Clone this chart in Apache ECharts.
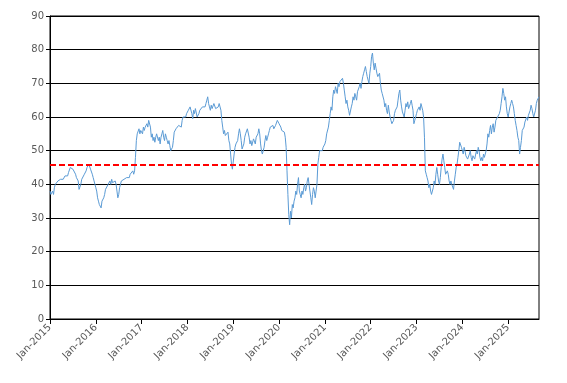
<!DOCTYPE html>
<html>
<head>
<meta charset="utf-8">
<script src="https://cdn.jsdelivr.net/npm/echarts@6/dist/echarts.min.js"></script>
<style>html,body{margin:0;padding:0;background:#fff}#c{width:567px;height:383px}</style>
</head>
<body>
<div id="c"></div>
<script>
// Weekly values per year (52 weeks per year, 2025 partial)
var v2015 = [38,37,36.5,38,37, 39,40,40.5,40, 41,40.5,41,41.5, 41,42,41.5,42,42.5, 42,43,42.5,43.5, 44,45,44.5,45.5, 44.5,44,44.5,43,42, 42.5,41,38.5,39, 40,41.5,41,42, 43,43.5,44,45,45.5, 46,45.5,44.5,45, 43,42,41,40];
var v2016 = [39,38,36,35,34, 33.5,33,35,34.5, 36,37,38.5,38, 39,40,39.5,41,40, 41.5,40.5,41,40, 41,40,38,36, 37,39,40,41,40.5, 41,41.5,42,41, 42,41.5,42.5,42, 43,42.5,43.5,44,43, 44,48,53,55, 55.5,56.5,55,56];
var v2017 = [56,55,57,56,57, 57.5,58,57,59, 59,57,54,55, 53,54,52.5,54,55, 55.5,53,54,52, 54,55,56,54, 53,55,54,53,52, 53,51.5,50,50.5, 51,53,55.5,56, 56.5,57,56,57.5,58, 58,57,59,60, 59.5,60.5,60,61];
var v2018 = [61,62,61.5,63,63.5, 61,59.5,62,61, 62.5,63,60,60.5, 61,62,61.5,62.5,63, 62.5,63.5,63,64, 65,66,64,63, 62,63.5,62.5,63,64, 63.5,62.5,63,62, 63,64,63,62, 59,57,55,56,54.5, 55,54,55.5,53, 52,49,46,44.5];
var v2019 = [45,49,51,52,51.5, 53,55,56.5,55, 53,50.5,50,52, 54,55,55.5,56.5,56, 54,52,53,51.5, 52,53.5,53,52, 54,53.5,55,56.5,55, 52,50,49,48.5, 51,53,54.5,53, 54,55,56,57,56.5, 57,57.5,56.5,57, 57.5,58,59,58.5];
var v2020 = [58,57.5,57,56,56.5, 56,55.5,54,51, 44,37,31,28, 32,30,34,33,35, 36,38,37,40, 42,38,37,36, 38,37,39,40,38, 39,41,42,40, 38,36,34,37, 39,38,36,38,40, 46,48,50,49.5, 50.5,50,51,51.5];
var v2021 = [52,53,55,54.5,57, 59,61,63,62, 66,68,67,69, 68.5,67,70,69,70.5, 71,70,71.5,70, 68,66,64,65, 63,62,60.5,61,63, 64,66,65,67, 66,65,67.5,68, 69,70,68.5,70.5,72, 73,74,75,73.5, 72,71,70,73];
var v2022 = [75,78,79,76,74, 76,74.5,73,72, 71.5,73,70,68, 67,66.5,65,63,64, 62,61,63.5,61.5, 60,59,58,57.5, 59,61,62,61.5,63, 65,67,68,65, 63,61.5,62,60, 62,64,63,64.5,62.5, 63,64,65,63.5, 62,58,59,60];
var v2023 = [61,62,61.5,63,62, 64,63,62,60, 54,44,43,42, 41,39,40,38,37, 36.5,39,41,40, 43,45,43,41, 40,42,45,47.5,49, 47,45,43,42.5, 44,43,41,40, 41,40,39.5,38.5,41, 43,45,46,48, 50,52.5,53,51];
var v2024 = [50,49,51,50,48.5, 49,47.5,48,49, 50,48,47,48.5, 49,47.5,48,50,49, 51,50,48,47, 48,47,49,48, 48.5,50,52,55,54, 56,57.5,55,57, 58,55.5,57,59, 58.5,60,59.5,61,62, 64,66,68.5,67, 65,66,63,61];
var v2025 = [60,61.5,63,64,65, 64,63,61,59, 57.5,56,54,53, 49,51,53,56,56.5, 57,58.5,58,60, 59,60.5,61,62, 63.5,62.5,61,60,59.5, 62,64,65,64.5, 66];
var years = [2015,2016,2017,2018,2019,2020,2021,2022,2023,2024,2025];
var yearValues = [v2015,v2016,v2017,v2018,v2019,v2020,v2021,v2022,v2023,v2024,v2025];
var tickYears = [2015,2016,2017,2018,2019,2020,2021,2022,2023,2024,2025];
var refLevel = 45.8;

var data = [];
years.forEach(function (y, k) {
  yearValues[k].forEach(function (v, i) { data.push([y + i / 52, v]); });
});
var xMax = data[data.length - 1][0];

var chart = echarts.init(document.getElementById('c'), null, {renderer: 'canvas'});
chart.setOption({
  animation: false,
  backgroundColor: '#fff',
  grid: {left: 50, top: 16, right: 28, bottom: 64, show: true, borderColor: '#000', borderWidth: 1, containLabel: false},
  xAxis: {
    type: 'value', min: 2015, max: xMax,
    axisLine: {show: true, lineStyle: {color: '#000', width: 1}},
    axisTick: {show: true, customValues: tickYears, length: 5, lineStyle: {color: '#000'}},
    axisLabel: {customValues: tickYears, rotate: 45, margin: 7, color: '#595959', fontSize: 10, fontFamily: 'DejaVu Sans',
      formatter: function (v) { return 'Jan-' + Math.round(v); }},
    splitLine: {show: false}
  },
  yAxis: {
    type: 'value', min: 0, max: 90, interval: 10,
    axisLine: {show: true, lineStyle: {color: '#000', width: 1}},
    axisTick: {show: true, length: 4, lineStyle: {color: '#000'}},
    axisLabel: {color: '#595959', fontSize: 10, fontFamily: 'DejaVu Sans', margin: 6},
    splitLine: {show: true, lineStyle: {color: '#000', width: 1}}
  },
  series: [{
    type: 'line', data: data, showSymbol: false, symbol: 'none',
    lineStyle: {color: '#5B9BD5', width: 1},
    markLine: {
      silent: true, symbol: ['none', 'none'], label: {show: false},
      lineStyle: {color: '#FF0000', type: [6, 3], width: 2},
      data: [{yAxis: refLevel}]
    }
  }]
});
</script>
</body>
</html>
